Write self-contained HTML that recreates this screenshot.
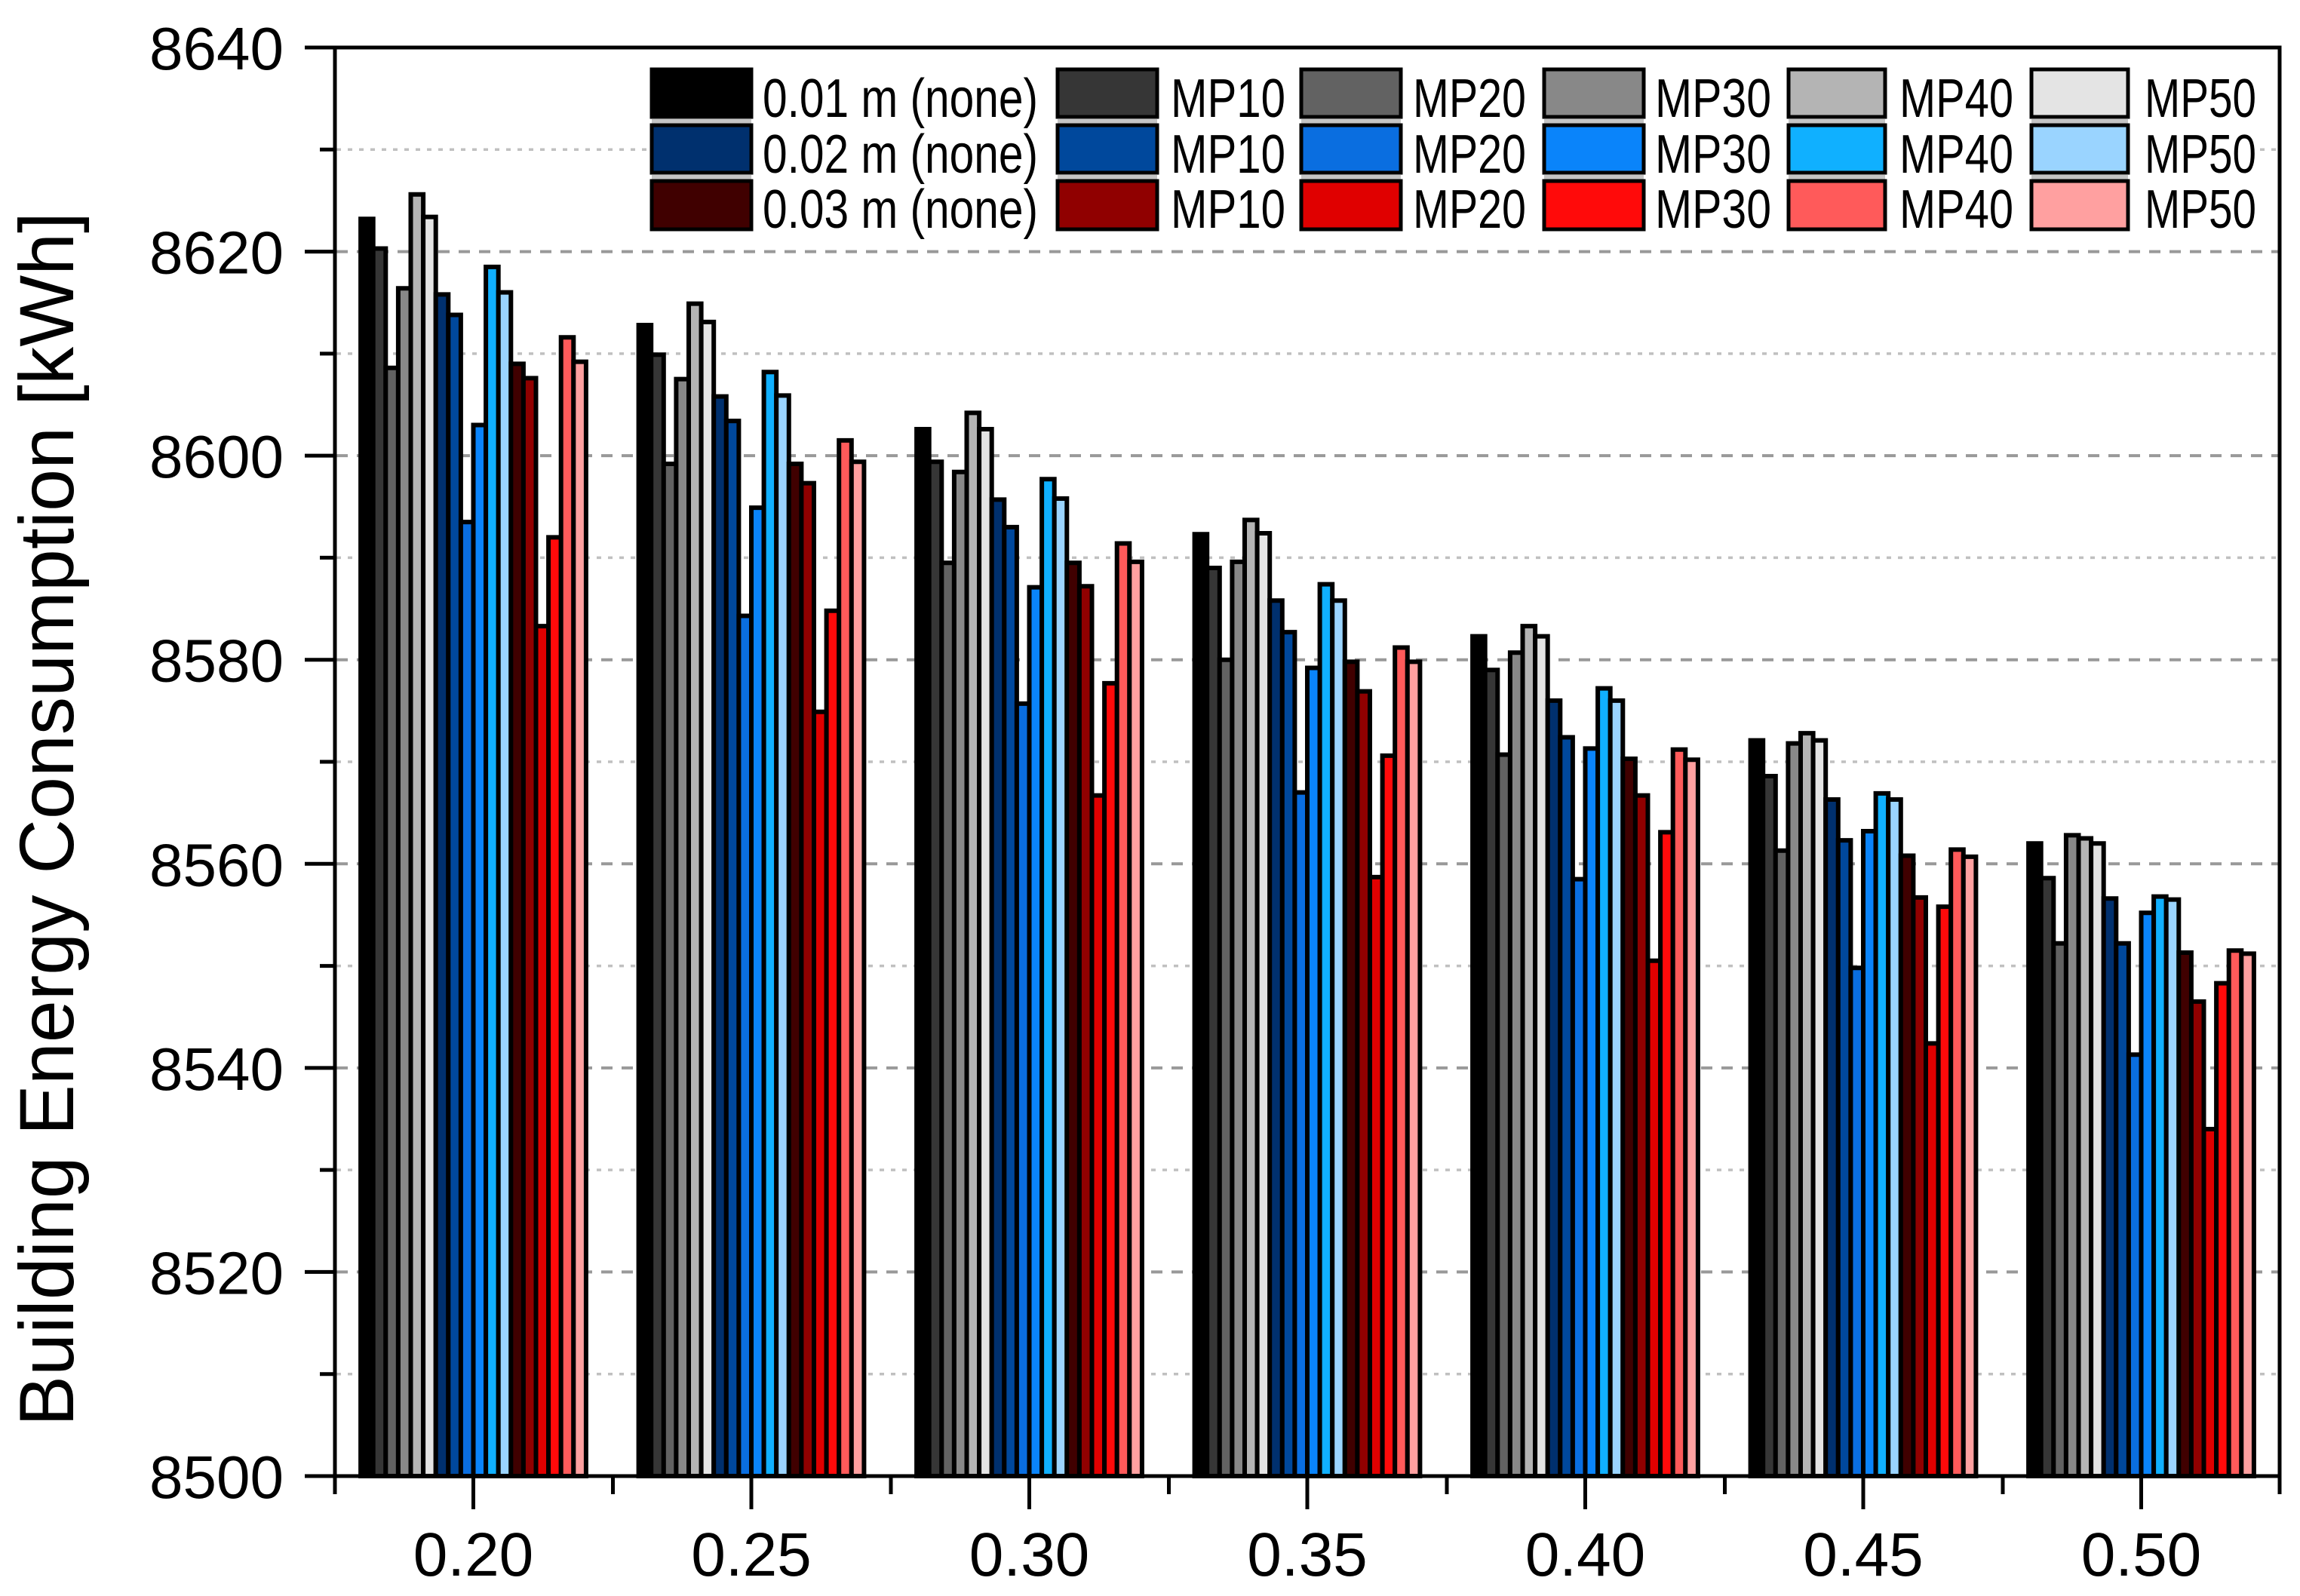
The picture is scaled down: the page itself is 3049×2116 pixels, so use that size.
<!DOCTYPE html>
<html>
<head>
<meta charset="utf-8">
<style>
html,body{margin:0;padding:0;background:#fff;}
svg{display:block;}
.bar rect{stroke:#000;stroke-width:6;vector-effect:non-scaling-stroke;}
.b0{fill:#000000}.b1{fill:#363636}.b2{fill:#626262}.b3{fill:#888888}.b4{fill:#b4b4b4}.b5{fill:#e4e4e4}
.b6{fill:#00306e}.b7{fill:#00489c}.b8{fill:#0a6ee0}.b9{fill:#0a84fa}.b10{fill:#10b0ff}.b11{fill:#9ad4ff}
.b12{fill:#400000}.b13{fill:#900000}.b14{fill:#e00000}.b15{fill:#ff0a0a}.b16{fill:#ff5a5a}.b17{fill:#ffa0a0}
.lg rect{stroke:#000;stroke-width:5;}
text{font-family:"Liberation Sans",Arial,sans-serif;fill:#000;}
</style>
</head>
<body>
<svg width="3049" height="2116" viewBox="0 0 3049 2116" xmlns="http://www.w3.org/2000/svg">
<rect x="0" y="0" width="3049" height="2116" fill="#fff"/>

<!-- minor gridlines (dotted) -->
<g stroke="#c0c0c0" stroke-width="3.5" stroke-dasharray="6 9">
<line x1="446" y1="198.3" x2="3020" y2="198.3"/>
<line x1="446" y1="468.9" x2="3020" y2="468.9"/>
<line x1="446" y1="739.4" x2="3020" y2="739.4"/>
<line x1="446" y1="1010" x2="3020" y2="1010"/>
<line x1="446" y1="1280.6" x2="3020" y2="1280.6"/>
<line x1="446" y1="1551.1" x2="3020" y2="1551.1"/>
<line x1="446" y1="1821.7" x2="3020" y2="1821.7"/>
</g>
<!-- major gridlines (dashed) -->
<g stroke="#999999" stroke-width="4" stroke-dasharray="15 12">
<line x1="446" y1="333.6" x2="3020" y2="333.6"/>
<line x1="446" y1="604.1" x2="3020" y2="604.1"/>
<line x1="446" y1="874.7" x2="3020" y2="874.7"/>
<line x1="446" y1="1145.3" x2="3020" y2="1145.3"/>
<line x1="446" y1="1415.9" x2="3020" y2="1415.9"/>
<line x1="446" y1="1686.4" x2="3020" y2="1686.4"/>
</g>

<!-- bars: group 0.20 -->
<g class="bar" transform="translate(478.1,1957) scale(1,-13.5286)">
<rect class="b0" x="0" width="16.6" height="123.2"/>
<rect class="b1" x="16.6" width="16.6" height="120.3"/>
<rect class="b2" x="33.2" width="16.6" height="108.6"/>
<rect class="b3" x="49.8" width="16.6" height="116.4"/>
<rect class="b4" x="66.4" width="16.6" height="125.6"/>
<rect class="b5" x="83" width="16.6" height="123.4"/>
<rect class="b6" x="99.6" width="16.6" height="115.8"/>
<rect class="b7" x="116.2" width="16.6" height="113.8"/>
<rect class="b8" x="132.8" width="16.6" height="93.5"/>
<rect class="b9" x="149.4" width="16.6" height="103.0"/>
<rect class="b10" x="166" width="16.6" height="118.5"/>
<rect class="b11" x="182.6" width="16.6" height="116.0"/>
<rect class="b12" x="199.2" width="16.6" height="109.0"/>
<rect class="b13" x="215.8" width="16.6" height="107.6"/>
<rect class="b14" x="232.4" width="16.6" height="83.3"/>
<rect class="b15" x="249" width="16.6" height="92.0"/>
<rect class="b16" x="265.6" width="16.6" height="111.6"/>
<rect class="b17" x="282.2" width="16.6" height="109.2"/>
</g>
<!-- group 0.25 -->
<g class="bar" transform="translate(846.6,1957) scale(1,-13.5286)">
<rect class="b0" x="0" width="16.6" height="112.8"/>
<rect class="b1" x="16.6" width="16.6" height="109.9"/>
<rect class="b2" x="33.2" width="16.6" height="99.2"/>
<rect class="b3" x="49.8" width="16.6" height="107.5"/>
<rect class="b4" x="66.4" width="16.6" height="114.9"/>
<rect class="b5" x="83" width="16.6" height="113.1"/>
<rect class="b6" x="99.6" width="16.6" height="105.8"/>
<rect class="b7" x="116.2" width="16.6" height="103.4"/>
<rect class="b8" x="132.8" width="16.6" height="84.3"/>
<rect class="b9" x="149.4" width="16.6" height="94.9"/>
<rect class="b10" x="166" width="16.6" height="108.2"/>
<rect class="b11" x="182.6" width="16.6" height="105.9"/>
<rect class="b12" x="199.2" width="16.6" height="99.2"/>
<rect class="b13" x="215.8" width="16.6" height="97.3"/>
<rect class="b14" x="232.4" width="16.6" height="74.9"/>
<rect class="b15" x="249" width="16.6" height="84.8"/>
<rect class="b16" x="265.6" width="16.6" height="101.5"/>
<rect class="b17" x="282.2" width="16.6" height="99.4"/>
</g>
<!-- group 0.30 -->
<g class="bar" transform="translate(1215.1,1957) scale(1,-13.5286)">
<rect class="b0" x="0" width="16.6" height="102.6"/>
<rect class="b1" x="16.6" width="16.6" height="99.4"/>
<rect class="b2" x="33.2" width="16.6" height="89.5"/>
<rect class="b3" x="49.8" width="16.6" height="98.4"/>
<rect class="b4" x="66.4" width="16.6" height="104.2"/>
<rect class="b5" x="83" width="16.6" height="102.6"/>
<rect class="b6" x="99.6" width="16.6" height="95.7"/>
<rect class="b7" x="116.2" width="16.6" height="93.0"/>
<rect class="b8" x="132.8" width="16.6" height="75.7"/>
<rect class="b9" x="149.4" width="16.6" height="87.1"/>
<rect class="b10" x="166" width="16.6" height="97.7"/>
<rect class="b11" x="182.6" width="16.6" height="95.8"/>
<rect class="b12" x="199.2" width="16.6" height="89.5"/>
<rect class="b13" x="215.8" width="16.6" height="87.2"/>
<rect class="b14" x="232.4" width="16.6" height="66.7"/>
<rect class="b15" x="249" width="16.6" height="77.7"/>
<rect class="b16" x="265.6" width="16.6" height="91.4"/>
<rect class="b17" x="282.2" width="16.6" height="89.6"/>
</g>
<!-- group 0.35 -->
<g class="bar" transform="translate(1583.6,1957) scale(1,-13.5286)">
<rect class="b0" x="0" width="16.6" height="92.3"/>
<rect class="b1" x="16.6" width="16.6" height="89.0"/>
<rect class="b2" x="33.2" width="16.6" height="80.0"/>
<rect class="b3" x="49.8" width="16.6" height="89.6"/>
<rect class="b4" x="66.4" width="16.6" height="93.7"/>
<rect class="b5" x="83" width="16.6" height="92.4"/>
<rect class="b6" x="99.6" width="16.6" height="85.8"/>
<rect class="b7" x="116.2" width="16.6" height="82.7"/>
<rect class="b8" x="132.8" width="16.6" height="67.0"/>
<rect class="b9" x="149.4" width="16.6" height="79.2"/>
<rect class="b10" x="166" width="16.6" height="87.4"/>
<rect class="b11" x="182.6" width="16.6" height="85.8"/>
<rect class="b12" x="199.2" width="16.6" height="79.8"/>
<rect class="b13" x="215.8" width="16.6" height="76.9"/>
<rect class="b14" x="232.4" width="16.6" height="58.7"/>
<rect class="b15" x="249" width="16.6" height="70.6"/>
<rect class="b16" x="265.6" width="16.6" height="81.2"/>
<rect class="b17" x="282.2" width="16.6" height="79.8"/>
</g>
<!-- group 0.40 -->
<g class="bar" transform="translate(1952.1,1957) scale(1,-13.5286)">
<rect class="b0" x="0" width="16.6" height="82.3"/>
<rect class="b1" x="16.6" width="16.6" height="79.0"/>
<rect class="b2" x="33.2" width="16.6" height="70.7"/>
<rect class="b3" x="49.8" width="16.6" height="80.7"/>
<rect class="b4" x="66.4" width="16.6" height="83.3"/>
<rect class="b5" x="83" width="16.6" height="82.3"/>
<rect class="b6" x="99.6" width="16.6" height="76.0"/>
<rect class="b7" x="116.2" width="16.6" height="72.4"/>
<rect class="b8" x="132.8" width="16.6" height="58.5"/>
<rect class="b9" x="149.4" width="16.6" height="71.3"/>
<rect class="b10" x="166" width="16.6" height="77.2"/>
<rect class="b11" x="182.6" width="16.6" height="76.0"/>
<rect class="b12" x="199.2" width="16.6" height="70.3"/>
<rect class="b13" x="215.8" width="16.6" height="66.7"/>
<rect class="b14" x="232.4" width="16.6" height="50.5"/>
<rect class="b15" x="249" width="16.6" height="63.1"/>
<rect class="b16" x="265.6" width="16.6" height="71.2"/>
<rect class="b17" x="282.2" width="16.6" height="70.2"/>
</g>
<!-- group 0.45 -->
<g class="bar" transform="translate(2320.6,1957) scale(1,-13.5286)">
<rect class="b0" x="0" width="16.6" height="72.1"/>
<rect class="b1" x="16.6" width="16.6" height="68.6"/>
<rect class="b2" x="33.2" width="16.6" height="61.3"/>
<rect class="b3" x="49.8" width="16.6" height="71.8"/>
<rect class="b4" x="66.4" width="16.6" height="72.8"/>
<rect class="b5" x="83" width="16.6" height="72.1"/>
<rect class="b6" x="99.6" width="16.6" height="66.3"/>
<rect class="b7" x="116.2" width="16.6" height="62.3"/>
<rect class="b8" x="132.8" width="16.6" height="49.8"/>
<rect class="b9" x="149.4" width="16.6" height="63.2"/>
<rect class="b10" x="166" width="16.6" height="66.9"/>
<rect class="b11" x="182.6" width="16.6" height="66.3"/>
<rect class="b12" x="199.2" width="16.6" height="60.8"/>
<rect class="b13" x="215.8" width="16.6" height="56.7"/>
<rect class="b14" x="232.4" width="16.6" height="42.4"/>
<rect class="b15" x="249" width="16.6" height="55.8"/>
<rect class="b16" x="265.6" width="16.6" height="61.4"/>
<rect class="b17" x="282.2" width="16.6" height="60.7"/>
</g>
<!-- group 0.50 -->
<g class="bar" transform="translate(2689.1,1957) scale(1,-13.5286)">
<rect class="b0" x="0" width="16.6" height="62.0"/>
<rect class="b1" x="16.6" width="16.6" height="58.6"/>
<rect class="b2" x="33.2" width="16.6" height="52.2"/>
<rect class="b3" x="49.8" width="16.6" height="62.8"/>
<rect class="b4" x="66.4" width="16.6" height="62.5"/>
<rect class="b5" x="83" width="16.6" height="62.0"/>
<rect class="b6" x="99.6" width="16.6" height="56.6"/>
<rect class="b7" x="116.2" width="16.6" height="52.2"/>
<rect class="b8" x="132.8" width="16.6" height="41.3"/>
<rect class="b9" x="149.4" width="16.6" height="55.2"/>
<rect class="b10" x="166" width="16.6" height="56.8"/>
<rect class="b11" x="182.6" width="16.6" height="56.5"/>
<rect class="b12" x="199.2" width="16.6" height="51.3"/>
<rect class="b13" x="215.8" width="16.6" height="46.5"/>
<rect class="b14" x="232.4" width="16.6" height="34.0"/>
<rect class="b15" x="249" width="16.6" height="48.3"/>
<rect class="b16" x="265.6" width="16.6" height="51.5"/>
<rect class="b17" x="282.2" width="16.6" height="51.2"/>
</g>

<!-- legend -->
<rect x="858" y="84" width="2138" height="228" fill="#fff"/>
<g fill="#c4c4c4">
<rect x="864" y="158" width="132" height="6"/><rect x="1402" y="158" width="132" height="6"/><rect x="1725" y="158" width="132" height="6"/><rect x="2047" y="158" width="132" height="6"/><rect x="2371" y="158" width="128" height="6"/><rect x="2693" y="158" width="128" height="6"/>
<rect x="864" y="232" width="132" height="6"/><rect x="1402" y="232" width="132" height="6"/><rect x="1725" y="232" width="132" height="6"/><rect x="2047" y="232" width="132" height="6"/><rect x="2371" y="232" width="128" height="6"/><rect x="2693" y="232" width="128" height="6"/>
</g>
<g class="lg">
<rect x="864" y="92" width="132" height="63" class="b0"/>
<rect x="1402" y="92" width="132" height="63" class="b1"/>
<rect x="1725" y="92" width="132" height="63" class="b2"/>
<rect x="2047" y="92" width="132" height="63" class="b3"/>
<rect x="2371" y="92" width="128" height="63" class="b4"/>
<rect x="2693" y="92" width="128" height="63" class="b5"/>
<rect x="864" y="166" width="132" height="63" class="b6"/>
<rect x="1402" y="166" width="132" height="63" class="b7"/>
<rect x="1725" y="166" width="132" height="63" class="b8"/>
<rect x="2047" y="166" width="132" height="63" class="b9"/>
<rect x="2371" y="166" width="128" height="63" class="b10"/>
<rect x="2693" y="166" width="128" height="63" class="b11"/>
<rect x="864" y="240" width="132" height="64" class="b12"/>
<rect x="1402" y="240" width="132" height="64" class="b13"/>
<rect x="1725" y="240" width="132" height="64" class="b14"/>
<rect x="2047" y="240" width="132" height="64" class="b15"/>
<rect x="2371" y="240" width="128" height="64" class="b16"/>
<rect x="2693" y="240" width="128" height="64" class="b17"/>
</g>
<g font-size="72">
<text x="1011" y="155" textLength="365" lengthAdjust="spacingAndGlyphs">0.01 m (none)</text>
<text x="1552" y="155" textLength="152" lengthAdjust="spacingAndGlyphs">MP10</text>
<text x="1873" y="155" textLength="150" lengthAdjust="spacingAndGlyphs">MP20</text>
<text x="2194" y="155" textLength="154" lengthAdjust="spacingAndGlyphs">MP30</text>
<text x="2518" y="155" textLength="151" lengthAdjust="spacingAndGlyphs">MP40</text>
<text x="2843" y="155" textLength="148" lengthAdjust="spacingAndGlyphs">MP50</text>
<text x="1011" y="229" textLength="365" lengthAdjust="spacingAndGlyphs">0.02 m (none)</text>
<text x="1552" y="229" textLength="152" lengthAdjust="spacingAndGlyphs">MP10</text>
<text x="1873" y="229" textLength="150" lengthAdjust="spacingAndGlyphs">MP20</text>
<text x="2194" y="229" textLength="154" lengthAdjust="spacingAndGlyphs">MP30</text>
<text x="2518" y="229" textLength="151" lengthAdjust="spacingAndGlyphs">MP40</text>
<text x="2843" y="229" textLength="148" lengthAdjust="spacingAndGlyphs">MP50</text>
<text x="1011" y="302" textLength="365" lengthAdjust="spacingAndGlyphs">0.03 m (none)</text>
<text x="1552" y="302" textLength="152" lengthAdjust="spacingAndGlyphs">MP10</text>
<text x="1873" y="302" textLength="150" lengthAdjust="spacingAndGlyphs">MP20</text>
<text x="2194" y="302" textLength="154" lengthAdjust="spacingAndGlyphs">MP30</text>
<text x="2518" y="302" textLength="151" lengthAdjust="spacingAndGlyphs">MP40</text>
<text x="2843" y="302" textLength="148" lengthAdjust="spacingAndGlyphs">MP50</text>
</g>

<!-- axes frame -->
<rect x="444" y="63" width="2578" height="1894" fill="none" stroke="#000" stroke-width="5"/>
<!-- y ticks -->
<g stroke="#000" stroke-width="5">
<line x1="404" y1="63" x2="444" y2="63"/>
<line x1="404" y1="333.6" x2="444" y2="333.6"/>
<line x1="404" y1="604.1" x2="444" y2="604.1"/>
<line x1="404" y1="874.7" x2="444" y2="874.7"/>
<line x1="404" y1="1145.3" x2="444" y2="1145.3"/>
<line x1="404" y1="1415.9" x2="444" y2="1415.9"/>
<line x1="404" y1="1686.4" x2="444" y2="1686.4"/>
<line x1="404" y1="1957" x2="444" y2="1957"/>
<line x1="424" y1="198.3" x2="444" y2="198.3"/>
<line x1="424" y1="468.9" x2="444" y2="468.9"/>
<line x1="424" y1="739.4" x2="444" y2="739.4"/>
<line x1="424" y1="1010" x2="444" y2="1010"/>
<line x1="424" y1="1280.6" x2="444" y2="1280.6"/>
<line x1="424" y1="1551.1" x2="444" y2="1551.1"/>
<line x1="424" y1="1821.7" x2="444" y2="1821.7"/>
<!-- x ticks -->
<line x1="627.5" y1="1957" x2="627.5" y2="2001"/>
<line x1="996" y1="1957" x2="996" y2="2001"/>
<line x1="1364.5" y1="1957" x2="1364.5" y2="2001"/>
<line x1="1733" y1="1957" x2="1733" y2="2001"/>
<line x1="2101.5" y1="1957" x2="2101.5" y2="2001"/>
<line x1="2470" y1="1957" x2="2470" y2="2001"/>
<line x1="2838.5" y1="1957" x2="2838.5" y2="2001"/>
<line x1="444" y1="1957" x2="444" y2="1981"/>
<line x1="812.5" y1="1957" x2="812.5" y2="1981"/>
<line x1="1181" y1="1957" x2="1181" y2="1981"/>
<line x1="1549.5" y1="1957" x2="1549.5" y2="1981"/>
<line x1="1918" y1="1957" x2="1918" y2="1981"/>
<line x1="2286.5" y1="1957" x2="2286.5" y2="1981"/>
<line x1="2655" y1="1957" x2="2655" y2="1981"/>
<line x1="3022" y1="1957" x2="3022" y2="1981"/>
</g>

<!-- y tick labels -->
<g font-size="80" text-anchor="end">
<text x="376" y="92">8640</text>
<text x="376" y="362.6">8620</text>
<text x="376" y="633.1">8600</text>
<text x="376" y="903.7">8580</text>
<text x="376" y="1174.3">8560</text>
<text x="376" y="1444.9">8540</text>
<text x="376" y="1715.4">8520</text>
<text x="376" y="1986">8500</text>
</g>
<!-- x tick labels -->
<g font-size="82" text-anchor="middle">
<text x="627.5" y="2089">0.20</text>
<text x="996" y="2089">0.25</text>
<text x="1364.5" y="2089">0.30</text>
<text x="1733" y="2089">0.35</text>
<text x="2101.5" y="2089">0.40</text>
<text x="2470" y="2089">0.45</text>
<text x="2838.5" y="2089">0.50</text>
</g>
<!-- y axis title -->
<text transform="translate(97,1086) rotate(-90)" font-size="102" text-anchor="middle" textLength="1610" lengthAdjust="spacingAndGlyphs">Building Energy Consumption [kWh]</text>
</svg>
</body>
</html>
